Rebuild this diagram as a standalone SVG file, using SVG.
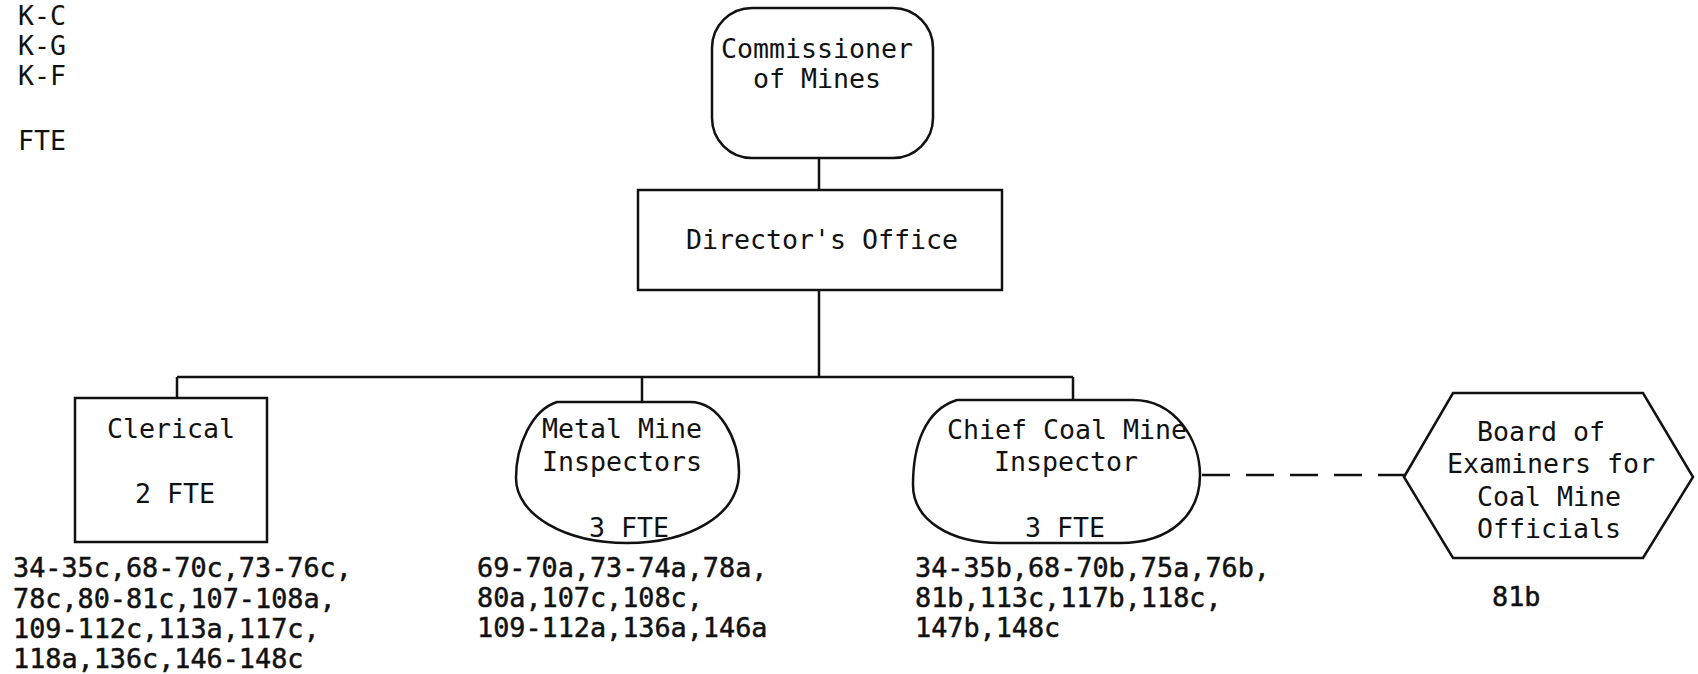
<svg xmlns="http://www.w3.org/2000/svg" width="1698" height="674" viewBox="0 0 1698 674">
<style>
text{font-family:"DejaVu Sans Mono","Liberation Mono",monospace;font-size:26.6px;fill:#111}
.c{text-anchor:middle}
.ref{font-size:26.8px;stroke:#111;stroke-width:0.5}
.shape{fill:#fff;stroke:#111;stroke-width:2.5}
.line{fill:none;stroke:#111;stroke-width:2.5}
.dash{fill:none;stroke:#111;stroke-width:2.5;stroke-dasharray:28 16}
</style>
<rect width="1698" height="674" fill="#fff"/>
<g id="legend">
<text x="18" y="25">K-C</text>
<text x="18" y="55">K-G</text>
<text x="18" y="85">K-F</text>
<text x="18" y="150">FTE</text>
</g>
<g id="connectors">
<path class="line" d="M819 158V190M819 290V377M177 377H1073M177 377V398M642 377V402M1073 377V400"/>
<path class="dash" d="M1202 475H1404"/>
</g>
<g id="commissioner">
<rect class="shape" x="712" y="8" width="221" height="150" rx="40"/>
<text class="c" x="817" y="58">Commissioner</text>
<text class="c" x="817" y="88">of Mines</text>
</g>
<g id="director">
<rect class="shape" x="638" y="190" width="364" height="100"/>
<text class="c" x="822" y="249">Director's Office</text>
</g>
<g id="clerical">
<rect class="shape" x="75" y="398" width="192" height="144"/>
<text class="c" x="171" y="438">Clerical</text>
<text class="c" x="175" y="503">2 FTE</text>
<text class="ref" x="13" y="577">34-35c,68-70c,73-76c,</text>
<text class="ref" x="13" y="608">78c,80-81c,107-108a,</text>
<text class="ref" x="13" y="638">109-112c,113a,117c,</text>
<text class="ref" x="13" y="668">118a,136c,146-148c</text>
</g>
<g id="metal">
<path class="shape" d="M557 402L690 402C720 402 739 440 739 472C739 515 690 543 627 543C565 543 516 515 516 478C516 445 532 410 557 402Z"/>
<text class="c" x="622" y="438">Metal Mine</text>
<text class="c" x="622" y="471">Inspectors</text>
<text class="c" x="629" y="537">3 FTE</text>
<text class="ref" x="477" y="577">69-70a,73-74a,78a,</text>
<text class="ref" x="477" y="607">80a,107c,108c,</text>
<text class="ref" x="477" y="637">109-112a,136a,146a</text>
</g>
<g id="chief">
<path class="shape" d="M957 400L1133 400C1175 400 1200 440 1200 475C1200 515 1170 543 1120 543L1000 543C950 543 913 520 913 485C913 445 925 410 957 400Z"/>
<text class="c" x="1067" y="439">Chief Coal Mine</text>
<text class="c" x="1066" y="471">Inspector</text>
<text class="c" x="1065" y="537">3 FTE</text>
<text class="ref" x="915" y="577">34-35b,68-70b,75a,76b,</text>
<text class="ref" x="915" y="607">81b,113c,117b,118c,</text>
<text class="ref" x="915" y="637">147b,148c</text>
</g>
<g id="board">
<path class="shape" d="M1404 477L1453 393H1643L1693 477L1643 558H1453Z"/>
<text x="1477" y="441">Board of</text>
<text x="1447" y="473">Examiners for</text>
<text x="1477" y="506">Coal Mine</text>
<text x="1477" y="538">Officials</text>
<text class="ref" x="1492" y="606">81b</text>
</g>
</svg>
